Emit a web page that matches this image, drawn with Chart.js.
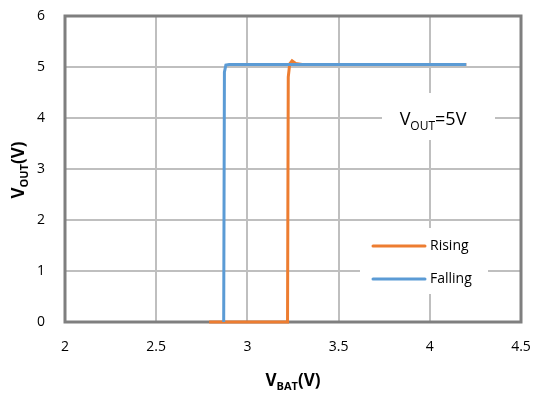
<!DOCTYPE html>
<html>
<head>
<meta charset="utf-8">
<script src="https://cdn.jsdelivr.net/npm/chart.js@4.4.1/dist/chart.umd.min.js"></script>
<style>
  html, body { margin: 0; padding: 0; background: #ffffff; }
  #wrap { width: 534px; height: 396px; position: relative; }
</style>
</head>
<body>
<div id="wrap"><canvas id="chart"></canvas></div>
<script>
// V_BAT sweep (x) and V_OUT (y)
var risingX = [2.79, 3.22, 3.224, 3.232, 3.245, 3.265, 3.3, 4.2];
var risingY = [0, 0, 4.8, 5.06, 5.12, 5.07, 5.05, 5.05];
var fallingX = [2.87, 2.874, 2.882, 2.9, 4.2];
var fallingY = [0, 4.9, 5.04, 5.05, 5.05];
var xTicks = [2, 2.5, 3, 3.5, 4, 4.5];
var yTicks = [0, 1, 2, 3, 4, 5, 6];
var seriesNames = ['Rising', 'Falling'];
var seriesColors = ['#ED7D31', '#5B9BD5'];

function pts(xs, ys) {
  var out = [];
  for (var i = 0; i < xs.length; i++) out.push({ x: xs[i], y: ys[i] });
  return out;
}

var FONT = '"Open Sans", "Noto Sans", sans-serif';

// text with a subscript in the middle, centred on x
function drawSub(ctx, x, y, main, sub, tail, big, small, bold) {
  var w = bold ? 'bold ' : '';
  ctx.font = w + big + 'px ' + FONT;
  var w1 = ctx.measureText(main).width;
  ctx.font = w + small + 'px ' + FONT;
  var w2 = ctx.measureText(sub).width;
  ctx.font = w + big + 'px ' + FONT;
  var w3 = ctx.measureText(tail).width;
  var left = x - (w1 + w2 + w3) / 2;
  ctx.textAlign = 'left';
  ctx.textBaseline = 'alphabetic';
  ctx.font = w + big + 'px ' + FONT;
  ctx.fillText(main, left, y);
  ctx.font = w + small + 'px ' + FONT;
  ctx.fillText(sub, left + w1, y + big * 0.25);
  ctx.font = w + big + 'px ' + FONT;
  ctx.fillText(tail, left + w1 + w2, y);
}

var extras = {
  id: 'extras',
  beforeDatasetsDraw: function(chart) {
    var ctx = chart.ctx, a = chart.chartArea;
    ctx.save();
    ctx.fillStyle = '#ffffff';
    ctx.fillRect(382, 93, 113, 47);    // annotation box
    ctx.fillRect(360, 228, 128, 66);   // legend box
    ctx.strokeStyle = '#7f7f7f';
    ctx.lineWidth = 3;
    ctx.strokeRect(a.left, a.top, a.right - a.left, a.bottom - a.top);
    ctx.restore();
  },
  afterDatasetsDraw: function(chart) {
    var ctx = chart.ctx;
    ctx.save();
    ctx.fillStyle = '#000000';
    drawSub(ctx, 433, 125, 'V', 'OUT', '=5V', 18, 12, false);

    var ly = [246, 279];
    for (var i = 0; i < seriesNames.length; i++) {
      ctx.strokeStyle = seriesColors[i];
      ctx.lineWidth = 3;
      ctx.lineCap = 'round';
      ctx.beginPath();
      ctx.moveTo(373, ly[i]);
      ctx.lineTo(425, ly[i]);
      ctx.stroke();
      ctx.fillStyle = '#000000';
      ctx.font = '14px ' + FONT;
      ctx.textAlign = 'left';
      ctx.textBaseline = 'middle';
      ctx.fillText(seriesNames[i], 430, ly[i]);
    }

    ctx.fillStyle = '#000000';
    drawSub(ctx, 293, 386, 'V', 'BAT', '(V)', 17, 11, true);
    ctx.translate(24, 170);
    ctx.rotate(-Math.PI / 2);
    drawSub(ctx, 0, 0, 'V', 'OUT', '(V)', 17, 11, true);
    ctx.restore();
  }
};

new Chart(document.getElementById('chart'), {
  type: 'scatter',
  data: {
    datasets: [
      {
        label: seriesNames[0],
        data: pts(risingX, risingY),
        showLine: true,
        borderColor: seriesColors[0],
        backgroundColor: seriesColors[0],
        borderWidth: 3,
        pointRadius: 0,
        tension: 0,
        clip: false,
        order: 1
      },
      {
        label: seriesNames[1],
        data: pts(fallingX, fallingY),
        showLine: true,
        borderColor: seriesColors[1],
        backgroundColor: seriesColors[1],
        borderWidth: 3,
        pointRadius: 0,
        tension: 0,
        clip: false,
        order: 0
      }
    ]
  },
  options: {
    responsive: true,
    maintainAspectRatio: false,
    animation: false,
    layout: { padding: { top: 16, right: 13, left: 0, bottom: 0 } },
    plugins: { legend: { display: false }, tooltip: { enabled: false } },
    scales: {
      x: {
        type: 'linear',
        min: 2, max: 4.5,
        afterBuildTicks: function(s) { s.ticks = xTicks.map(function(v) { return { value: v }; }); },
        afterFit: function(s) { s.height = 74; s.paddingLeft = 0; s.paddingRight = 0; },
        grid: { color: '#bfbfbf', lineWidth: 2, drawTicks: false },
        border: { display: false },
        ticks: { color: '#000', font: { family: FONT, size: 14 }, padding: 17, maxRotation: 0,
                 callback: function(v) { return String(v); } }
      },
      y: {
        type: 'linear',
        min: 0, max: 6,
        afterBuildTicks: function(s) { s.ticks = yTicks.map(function(v) { return { value: v }; }); },
        afterFit: function(s) { s.width = 65; s.paddingTop = 0; s.paddingBottom = 0; },
        grid: { color: '#bfbfbf', lineWidth: 2, drawTicks: false },
        border: { display: false },
        ticks: { color: '#000', font: { family: FONT, size: 14 }, padding: 20,
                 callback: function(v) { return String(v); } }
      }
    }
  },
  plugins: [extras]
});
</script>
</body>
</html>
